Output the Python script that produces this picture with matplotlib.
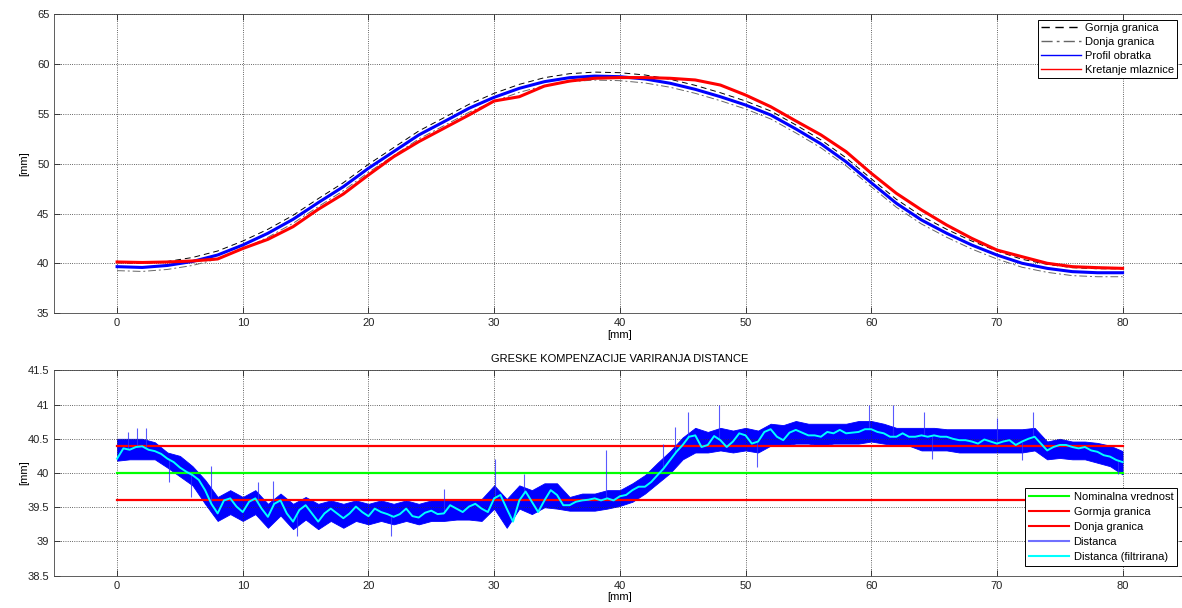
# -*- coding: utf-8 -*-
"""
Profil obratka + greske kompenzacije variranja distance (2 subplota, MATLAB stil)
"""

import numpy as np
import matplotlib.pyplot as plt
from matplotlib.lines import Line2D

plt.rcParams["font.family"] = ["Liberation Sans", "DejaVu Sans"]
plt.rcParams["font.size"] = 8

# ----------------- gornji grafik: profil (svaka 2 mm) -----------------
x_prof = np.arange(0, 81, 2)
profil = [39.68, 39.60, 39.80, 40.20, 40.85, 41.85, 43.03, 44.43, 46.10, 47.70,
          49.55, 51.22, 52.89, 54.22, 55.57, 56.67, 57.57, 58.24, 58.64, 58.80,
          58.74, 58.51, 58.08, 57.47, 56.73, 55.90, 54.90, 53.50, 52.00, 50.20,
          48.10, 46.04, 44.36, 43.03, 41.85, 40.85, 40.02, 39.51, 39.18, 39.07,
          39.07]
gornja = [40.08, 40.00, 40.20, 40.60, 41.25, 42.25, 43.43, 44.83, 46.50, 48.10,
          49.95, 51.62, 53.29, 54.62, 55.97, 57.07, 57.97, 58.64, 59.04, 59.20,
          59.14, 58.91, 58.48, 57.87, 57.13, 56.30, 55.30, 53.90, 52.40, 50.60,
          48.50, 46.44, 44.76, 43.43, 42.25, 41.25, 40.42, 39.91, 39.58, 39.47,
          39.47]
donja = [39.28, 39.20, 39.40, 39.80, 40.45, 41.45, 42.63, 44.03, 45.70, 47.30,
         49.15, 50.82, 52.49, 53.82, 55.17, 56.27, 57.17, 57.84, 58.24, 58.40,
         58.34, 58.11, 57.68, 57.07, 56.33, 55.50, 54.50, 53.10, 51.60, 49.80,
         47.70, 45.64, 43.96, 42.63, 41.45, 40.45, 39.62, 39.11, 38.78, 38.67,
         38.67]
mlaznica = [40.15, 40.10, 40.15, 40.25, 40.45, 41.50, 42.42, 43.69, 45.43, 46.97,
            48.88, 50.71, 52.22, 53.56, 54.90, 56.30, 56.73, 57.80, 58.30, 58.58,
            58.65, 58.65, 58.58, 58.41, 57.90, 56.90, 55.73, 54.30, 52.90, 51.22,
            49.05, 47.04, 45.37, 43.86, 42.52, 41.35, 40.68, 40.02, 39.68, 39.58,
            39.51]

# ----------------- donji grafik: distanca -----------------
NOMINAL, GORNJA_GR, DONJA_GR = 40.0, 40.4, 39.6

# filtrirana distanca, svakih 0.5 mm
x_filt = np.arange(0, 80.5, 0.5)
dist_filt = [40.21, 40.36, 40.34, 40.38, 40.39, 40.34, 40.32, 40.28, 40.21, 40.16,
             40.08, 40.02, 39.97, 39.90, 39.75, 39.55, 39.41, 39.60, 39.63, 39.51,
             39.43, 39.58, 39.63, 39.48, 39.36, 39.55, 39.60, 39.41, 39.29, 39.46,
             39.53, 39.41, 39.29, 39.41, 39.48, 39.41, 39.34, 39.41, 39.51, 39.43,
             39.37, 39.48, 39.43, 39.40, 39.36, 39.40, 39.48, 39.37, 39.35, 39.42,
             39.45, 39.40, 39.41, 39.53, 39.48, 39.43, 39.51, 39.55, 39.48, 39.43,
             39.63, 39.68, 39.48, 39.29, 39.60, 39.73, 39.58, 39.43, 39.60, 39.75,
             39.68, 39.53, 39.53, 39.58, 39.60, 39.61, 39.63, 39.60, 39.63, 39.60,
             39.66, 39.68, 39.75, 39.80, 39.80, 39.87, 39.97, 40.07, 40.19, 40.31,
             40.41, 40.53, 40.55, 40.38, 40.41, 40.54, 40.48, 40.38, 40.46, 40.58,
             40.55, 40.43, 40.46, 40.60, 40.64, 40.53, 40.48, 40.59, 40.63, 40.59,
             40.55, 40.55, 40.53, 40.60, 40.58, 40.63, 40.58, 40.59, 40.60, 40.64,
             40.64, 40.60, 40.58, 40.53, 40.53, 40.58, 40.53, 40.53, 40.55, 40.53,
             40.55, 40.53, 40.53, 40.50, 40.48, 40.48, 40.46, 40.43, 40.49, 40.46,
             40.43, 40.46, 40.48, 40.41, 40.46, 40.50, 40.53, 40.43, 40.33, 40.38,
             40.41, 40.41, 40.38, 40.36, 40.38, 40.33, 40.31, 40.26, 40.24, 40.19,
             40.16]

# sirovi signal: opseg (min/max) po 1 mm
x_band = np.arange(0, 81, 1)
band_hi = [40.50, 40.50, 40.50, 40.45, 40.30, 40.25, 40.10, 39.90, 39.65, 39.75,
           39.65, 39.75, 39.55, 39.70, 39.55, 39.65, 39.55, 39.60, 39.55, 39.60,
           39.55, 39.60, 39.55, 39.60, 39.55, 39.60, 39.60, 39.62, 39.62, 39.62,
           39.82, 39.62, 39.82, 39.75, 39.85, 39.85, 39.65, 39.70, 39.70, 39.75,
           39.75, 39.85, 39.97, 40.15, 40.32, 40.52, 40.66, 40.60, 40.66, 40.62,
           40.66, 40.62, 40.72, 40.70, 40.76, 40.72, 40.72, 40.72, 40.72, 40.76,
           40.76, 40.72, 40.66, 40.66, 40.66, 40.66, 40.64, 40.64, 40.64, 40.64,
           40.64, 40.64, 40.64, 40.66, 40.46, 40.50, 40.46, 40.46, 40.44, 40.40,
           40.32]
band_lo = [40.18, 40.20, 40.20, 40.20, 40.08, 39.95, 39.82, 39.55, 39.30, 39.40,
           39.30, 39.40, 39.20, 39.38, 39.18, 39.32, 39.18, 39.30, 39.20, 39.30,
           39.25, 39.30, 39.25, 39.30, 39.25, 39.30, 39.30, 39.32, 39.32, 39.30,
           39.48, 39.20, 39.48, 39.40, 39.50, 39.48, 39.45, 39.45, 39.45, 39.48,
           39.52, 39.58, 39.70, 39.85, 40.00, 40.20, 40.30, 40.30, 40.33, 40.30,
           40.33, 40.30, 40.40, 40.40, 40.43, 40.43, 40.40, 40.43, 40.43, 40.43,
           40.46, 40.43, 40.40, 40.40, 40.33, 40.33, 40.33, 40.30, 40.30, 40.30,
           40.30, 40.30, 40.30, 40.33, 40.20, 40.22, 40.20, 40.20, 40.15, 40.10,
           39.98]
# pojedinacni pikovi (x, vrednost)
spike_x = [0.9, 1.6, 2.3, 4.1, 5.9, 7.5, 11.2, 12.4, 14.3, 21.8, 26.0, 30.1, 32.4,
           38.9, 43.4, 44.4, 45.4, 47.9, 50.9, 59.8, 61.7, 64.2, 64.8, 70.0, 72.0,
           72.9, 79.6]
spike_y = [40.60, 40.66, 40.66, 39.87, 39.65, 40.10, 39.87, 39.88, 39.08, 39.08,
           39.76, 40.21, 39.99, 40.33, 40.43, 40.67, 40.89, 41.00, 40.09, 41.00,
           41.00, 40.89, 40.21, 40.80, 40.19, 40.89, 39.98]


def matlab_axes(ax, ylim, yticks):
    ax.set_xlim(-5, 85)
    ax.set_ylim(*ylim)
    ax.set_xticks(range(0, 81, 10))
    ax.set_yticks(yticks)
    ax.grid(True, color="#333333", linestyle=":", linewidth=0.6)
    ax.tick_params(direction="in", top=True, right=True, length=4, width=0.6,
                   labelsize=8, colors="#222222")
    for s in ax.spines.values():
        s.set_linewidth(0.6)
        s.set_color("#444444")
    ax.set_xlabel("[mm]", labelpad=1)
    ax.set_ylabel("[mm]")
    ax.yaxis.set_label_coords(-0.022, 0.5)


fig = plt.figure(figsize=(11.82, 6.08), dpi=100)
ax1 = fig.add_axes([0.0459, 0.4847, 0.957, 0.4918])
ax2 = fig.add_axes([0.0459, 0.0531, 0.957, 0.3378])

# ---- gornji ----
ax1.plot(x_prof, gornja, color="k", ls=(0, (6, 4)), lw=0.7, label="Gornja granica")
ax1.plot(x_prof, donja, color="0.4", ls=(0, (8, 3, 2, 3)), lw=0.7, label="Donja granica")
ax1.plot(x_prof, profil, color="b", lw=2.2, label="Profil obratka")
ax1.plot(x_prof, mlaznica, color="r", lw=2.2, label="Kretanje mlaznice")
matlab_axes(ax1, (35, 65), range(35, 66, 5))
leg1 = ax1.legend(loc="upper right", fontsize=8, handlelength=3.6, borderpad=0.3,
                  labelspacing=0.35, handletextpad=0.3, fancybox=False,
                  framealpha=1, edgecolor="k", bbox_to_anchor=(0.9975, 1.0))
for h in leg1.get_lines():
    h.set_linewidth(1.0)
leg1.get_frame().set_linewidth(0.7)

# ---- donji ----
ax2.axhline(NOMINAL, xmin=5 / 90, xmax=85 / 90, color="#00ff00", lw=1.6)
ax2.axhline(GORNJA_GR, xmin=5 / 90, xmax=85 / 90, color="#ff0000", lw=1.6)
ax2.axhline(DONJA_GR, xmin=5 / 90, xmax=85 / 90, color="#ff0000", lw=1.6)
ax2.fill_between(x_band, band_lo, band_hi, color="#0000ff", lw=0.6, edgecolor="#0000ff")
filt_at_spike = np.interp(spike_x, x_filt, dist_filt)
ax2.vlines(spike_x, filt_at_spike, spike_y, color="#3030ff", lw=0.8, alpha=0.8)
ax2.plot(x_filt, dist_filt, color="#00ffff", lw=1.4)
ax2.set_title("GRESKE KOMPENZACIJE VARIRANJA DISTANCE", fontsize=8, pad=6)
matlab_axes(ax2, (38.5, 41.5), np.arange(38.5, 41.6, 0.5))
ax2.set_yticklabels(["38.5", "39", "39.5", "40", "40.5", "41", "41.5"])

handles = [Line2D([], [], color="#00ff00", lw=1.5),
           Line2D([], [], color="#ff0000", lw=1.5),
           Line2D([], [], color="#ff0000", lw=1.5),
           Line2D([], [], color="#7070ff", lw=1.5),
           Line2D([], [], color="#00ffff", lw=1.5)]
labels = ["Nominalna vrednost", "Gormja granica", "Donja granica", "Distanca",
          "Distanca (filtrirana)"]
leg2 = ax2.legend(handles, labels, loc="lower right", fontsize=8, handlelength=3.6,
                  borderpad=0.35, labelspacing=0.45, handletextpad=0.4, fancybox=False,
                  framealpha=1, edgecolor="k", bbox_to_anchor=(0.9975, 0.02))
leg2.get_frame().set_linewidth(0.7)

fig.savefig("out.png", dpi=100)
